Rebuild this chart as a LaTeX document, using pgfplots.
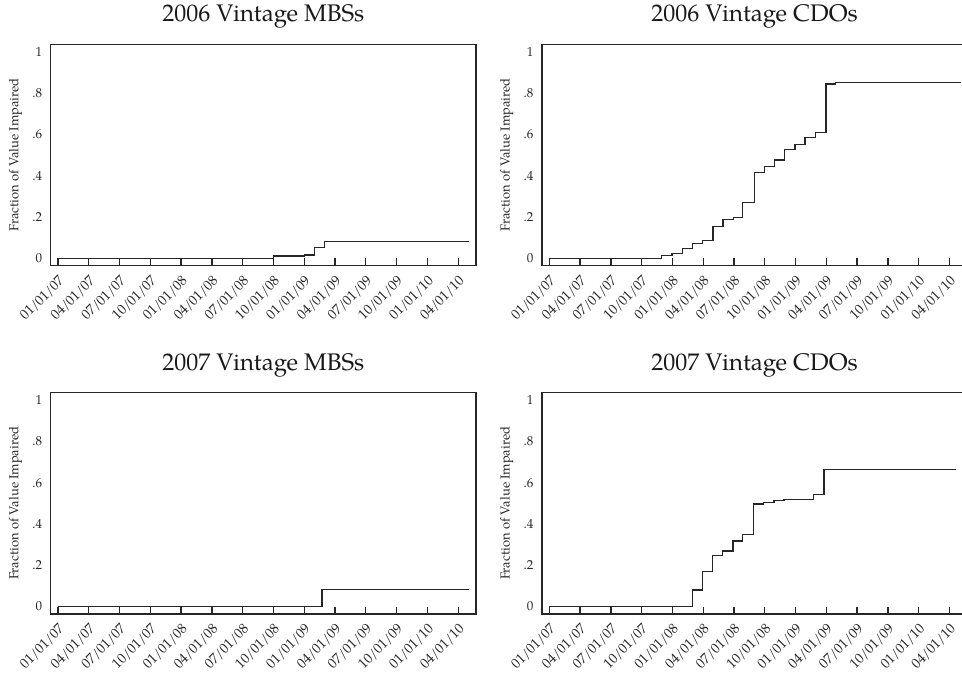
\documentclass[border=0pt]{standalone}
\usepackage{pgfplots}
\pgfplotsset{compat=1.18}
\usepackage{fontspec}
\setmainfont{TeX Gyre Pagella}

\pgfplotstableread{
x y
0 0
20.99 0.011
24.0 0.016
24.98 0.051
25.96 0.082
40.09 0.082
}\mbsA
\pgfplotstableread{
x y
0 0
10.95 0.013
11.96 0.024
12.97 0.047
13.94 0.073
14.95 0.087
15.96 0.153
16.93 0.187
17.94 0.198
18.85 0.269
20.02 0.415
20.96 0.444
21.97 0.476
22.94 0.526
23.95 0.550
24.93 0.584
25.93 0.611
26.97 0.845
27.88 0.852
40.10 0.852
}\cdoA
\pgfplotstableread{
x y
0 0
25.73 0.083
40.09 0.083
}\mbsB
\pgfplotstableread{
x y
0 0
13.94 0.081
14.90 0.171
15.93 0.247
16.87 0.269
17.91 0.318
18.85 0.350
19.92 0.497
20.90 0.503
21.90 0.513
22.88 0.518
25.74 0.544
26.78 0.663
39.67 0.663
}\cdoB

\pgfplotsset{
  panel/.style={
    scale only axis,
    width=425.3pt, height=221.5pt,
    anchor=south west,
    xmin=-0.71, xmax=40.74,
    ymin=-0.036, ymax=1.038,
    axis line style={line width=1.3pt, black!85},
    xtick={0,3,6,9,12,15,18,21,24,27,30,33,36,39},
    xticklabels={01/01/07,04/01/07,07/01/07,10/01/07,01/01/08,04/01/08,07/01/08,10/01/08,01/01/09,04/01/09,07/01/09,10/01/09,01/01/10,04/01/10},
    xtick pos=lower,
    tick align=inside,
    major tick length=7.3pt,
    xtick style={line width=1.3pt, black!85},
    ytick={0,0.2,0.4,0.6,0.8,1},
    yticklabels={0,.2,.4,.6,.8,1},
    ytick style={draw=none},
    ytick pos=left,
    /pgf/number format/assume math mode=true,
    yticklabel style={font=\fontsize{13}{15}\selectfont, text=black!85, xshift=-5pt},
    xticklabel style={font=\fontsize{14}{16}\selectfont, text=black!85, xshift=6.5pt, yshift=-10.5pt, rotate=45, anchor=east},
    ylabel={Fraction of Value Impaired},
    ylabel style={font=\fontsize{13}{15}\selectfont, text=black!85, at={(axis description cs:-0.083,0.5)}, anchor=center},
    title style={font=\fontsize{24}{28}\selectfont, text=black!90, at={(0.5,1)}, anchor=base, yshift=16.5pt},
  },
  step/.style={const plot, line width=1.3pt, black!85, mark=none}
}

\begin{document}
\begin{tikzpicture}[x=1pt,y=1pt]
\path[use as bounding box] (0,0) rectangle (962,-677);
\begin{axis}[panel, at={(50.7pt,-265.7pt)}, title={2006 Vintage MBSs}]
\addplot[step] table[x=x,y=y] {\mbsA};
\end{axis}
\begin{axis}[panel, at={(542pt,-265.7pt)}, title={2006 Vintage CDOs}]
\addplot[step] table[x=x,y=y] {\cdoA};
\end{axis}
\begin{axis}[panel, at={(50.7pt,-614pt)}, title={2007 Vintage MBSs}]
\addplot[step] table[x=x,y=y] {\mbsB};
\end{axis}
\begin{axis}[panel, at={(542pt,-614pt)}, title={2007 Vintage CDOs}]
\addplot[step] table[x=x,y=y] {\cdoB};
\end{axis}
\end{tikzpicture}
\end{document}
